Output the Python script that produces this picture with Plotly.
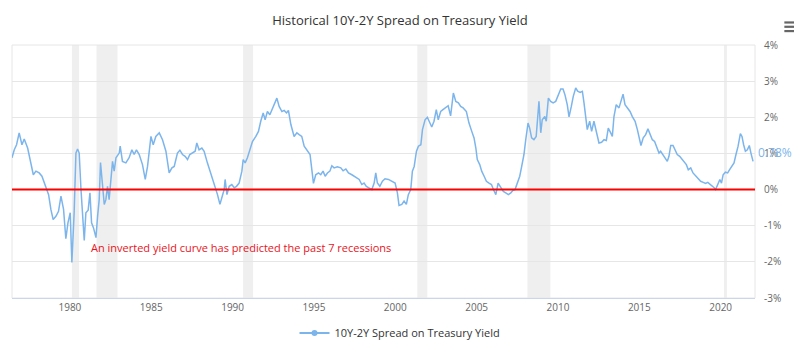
import plotly.graph_objects as go
import pandas as pd

# ---- data (decimal year, spread in %) ----
years = [
    1976.44, 1976.58, 1976.72, 1976.88, 1977.05, 1977.19, 1977.40, 1977.54, 1977.75, 1977.91,
    1978.11, 1978.28, 1978.42, 1978.56, 1978.69, 1978.83, 1978.97, 1979.14, 1979.30, 1979.45,
    1979.61, 1979.75, 1979.88, 1980.02, 1980.12, 1980.26, 1980.37, 1980.47, 1980.57, 1980.68,
    1980.77, 1980.88, 1980.98, 1981.12, 1981.23, 1981.33, 1981.45, 1981.60, 1981.70, 1981.80,
    1981.88, 1982.00, 1982.11, 1982.21, 1982.31, 1982.41, 1982.52, 1982.62, 1982.72, 1982.83,
    1983.03, 1983.09, 1983.23, 1983.44, 1983.64, 1983.81, 1983.95, 1984.09, 1984.26, 1984.46,
    1984.63, 1984.77, 1984.98, 1985.12, 1985.28, 1985.49, 1985.69, 1985.90, 1986.10, 1986.27,
    1986.41, 1986.51, 1986.61, 1986.76, 1986.92, 1987.08, 1987.23, 1987.37, 1987.53, 1987.70,
    1987.80, 1987.94, 1988.11, 1988.25, 1988.45, 1988.66, 1988.80, 1988.93, 1989.07, 1989.22,
    1989.34, 1989.48, 1989.54, 1989.65, 1989.79, 1989.95, 1990.10, 1990.24, 1990.40, 1990.57,
    1990.65, 1990.77, 1990.91, 1991.06, 1991.22, 1991.43, 1991.59, 1991.73, 1991.88, 1992.00,
    1992.14, 1992.29, 1992.45, 1992.61, 1992.72, 1992.86, 1993.03, 1993.17, 1993.31, 1993.43,
    1993.58, 1993.78, 1993.95, 1994.09, 1994.25, 1994.40, 1994.60, 1994.76, 1994.87, 1994.97,
    1995.11, 1995.28, 1995.42, 1995.56, 1995.69, 1995.83, 1995.98, 1996.10, 1996.24, 1996.44,
    1996.65, 1996.79, 1996.96, 1997.12, 1997.33, 1997.47, 1997.63, 1997.78, 1997.94, 1998.08,
    1998.22, 1998.39, 1998.56, 1998.70, 1998.80, 1998.90, 1999.05, 1999.21, 1999.37, 1999.58,
    1999.79, 1999.99, 2000.13, 2000.23, 2000.40, 2000.54, 2000.68, 2000.80, 2000.95, 2001.05,
    2001.16, 2001.30, 2001.42, 2001.57, 2001.67, 2001.83, 2001.97, 2002.12, 2002.24, 2002.38,
    2002.52, 2002.64, 2002.79, 2002.93, 2003.10, 2003.25, 2003.40, 2003.57, 2003.72, 2003.88,
    2004.02, 2004.17, 2004.37, 2004.53, 2004.70, 2004.84, 2004.95, 2005.04, 2005.19, 2005.31,
    2005.46, 2005.60, 2005.76, 2005.91, 2006.03, 2006.18, 2006.32, 2006.48, 2006.64, 2006.79,
    2006.95, 2007.10, 2007.24, 2007.36, 2007.50, 2007.65, 2007.77, 2007.91, 2008.02, 2008.16,
    2008.26, 2008.38, 2008.52, 2008.66, 2008.83, 2008.94, 2009.03, 2009.19, 2009.28, 2009.41,
    2009.55, 2009.70, 2009.86, 2010.02, 2010.17, 2010.31, 2010.43, 2010.57, 2010.68, 2010.82,
    2010.94, 2011.09, 2011.21, 2011.36, 2011.50, 2011.60, 2011.71, 2011.80, 2011.95, 2012.07,
    2012.21, 2012.36, 2012.52, 2012.68, 2012.83, 2012.97, 2013.09, 2013.24, 2013.34, 2013.44,
    2013.58, 2013.75, 2013.89, 2014.00, 2014.12, 2014.26, 2014.43, 2014.57, 2014.74, 2014.88,
    2014.98, 2015.10, 2015.24, 2015.39, 2015.53, 2015.66, 2015.80, 2015.94, 2016.07, 2016.21,
    2016.31, 2016.45, 2016.62, 2016.72, 2016.82, 2016.93, 2017.07, 2017.19, 2017.33, 2017.48,
    2017.60, 2017.75, 2017.89, 2018.01, 2018.16, 2018.30, 2018.46, 2018.62, 2018.77, 2018.93,
    2019.07, 2019.21, 2019.33, 2019.48, 2019.60, 2019.69, 2019.81, 2019.95, 2020.05, 2020.15,
    2020.29, 2020.43, 2020.55, 2020.70, 2020.82, 2020.94, 2021.07, 2021.21, 2021.31, 2021.41,
    2021.52, 2021.64, 2021.76, 2021.86, 2021.99,
]
spread = [
    0.88, 1.10, 1.24, 1.57, 1.24, 1.40, 1.15, 0.88, 0.41, 0.51,
    0.46, 0.37, 0.18, 0.05, -0.14, -0.55, -0.83, -0.74, -0.60, -0.18,
    -0.55, -1.36, -0.92, -0.64, -2.02, -0.64, 1.01, 1.12, 1.01, 0.00,
    -0.64, -1.41, -0.64, -0.57, -0.09, -0.92, -1.06, -1.33, -0.74, -0.28,
    0.75, 0.00, -0.41, -0.28, 0.09, -0.28, 0.37, 0.78, 0.51, 0.88,
    1.01, 1.20, 0.78, 0.74, 0.88, 1.10, 0.97, 1.10, 0.97, 0.69,
    0.28, 0.64, 1.47, 1.24, 1.47, 1.57, 1.38, 1.06, 0.46, 0.60,
    0.64, 0.83, 1.01, 1.09, 0.97, 0.92, 0.83, 0.97, 1.01, 1.06,
    1.29, 1.10, 1.15, 1.06, 0.74, 0.46, 0.28, 0.09, -0.14, -0.41,
    -0.18, 0.00, 0.28, -0.14, 0.09, 0.14, 0.05, 0.09, 0.18, 0.51,
    0.83, 0.74, 0.88, 1.10, 1.33, 1.47, 1.61, 1.89, 2.12, 1.93,
    2.16, 2.07, 2.26, 2.40, 2.53, 2.30, 2.16, 2.19, 2.12, 2.19,
    1.80, 1.47, 1.57, 1.52, 1.47, 1.20, 1.06, 0.97, 0.55, 0.17,
    0.41, 0.46, 0.41, 0.51, 0.37, 0.46, 0.51, 0.66, 0.60, 0.63,
    0.60, 0.52, 0.57, 0.46, 0.41, 0.37, 0.32, 0.28, 0.14, 0.18,
    0.09, 0.05, 0.00, 0.18, 0.46, 0.18, 0.09, 0.23, 0.30, 0.28,
    0.23, 0.18, -0.09, -0.44, -0.41, -0.32, -0.41, -0.14, 0.00, 0.51,
    0.64, 1.06, 1.20, 1.24, 1.66, 1.93, 2.00, 1.84, 1.73, 1.89,
    2.21, 1.93, 2.16, 2.21, 2.26, 2.32, 2.04, 2.67, 2.44, 2.40,
    2.30, 2.26, 2.16, 1.84, 1.61, 1.43, 1.15, 0.83, 0.69, 0.51,
    0.37, 0.23, 0.18, 0.14, 0.00, -0.14, 0.18, 0.05, -0.05, -0.09,
    -0.14, -0.09, -0.02, 0.00, 0.18, 0.37, 0.64, 0.97, 1.38, 1.84,
    1.70, 1.43, 1.38, 1.47, 2.44, 1.57, 1.93, 2.02, 1.89, 2.53,
    2.44, 2.40, 2.44, 2.62, 2.78, 2.78, 2.62, 2.35, 2.01, 2.30,
    2.58, 2.81, 2.72, 2.69, 2.72, 2.40, 1.93, 1.66, 1.89, 1.61,
    1.89, 1.57, 1.29, 1.31, 1.38, 1.36, 1.70, 1.57, 1.47, 2.02,
    2.35, 2.26, 2.44, 2.64, 2.35, 2.26, 2.16, 2.02, 1.89, 1.66,
    1.43, 1.22, 1.43, 1.52, 1.68, 1.52, 1.38, 1.33, 1.20, 1.01,
    1.06, 0.97, 0.83, 0.78, 0.92, 1.22, 1.22, 1.10, 0.97, 0.92,
    0.85, 0.78, 0.69, 0.55, 0.60, 0.46, 0.39, 0.30, 0.23, 0.20,
    0.17, 0.20, 0.16, 0.09, 0.05, 0.00, 0.14, 0.28, 0.18, 0.41,
    0.48, 0.46, 0.55, 0.64, 0.74, 0.97, 1.20, 1.55, 1.47, 1.24,
    1.06, 1.10, 1.22, 1.01, 0.78,
]

recession_starts = ["1980-02-15", "1981-08-20", "1990-08-25", "2001-05-10", "2008-02-15", "2020-03-15"]
recession_ends = ["1980-07-25", "1982-12-05", "1991-04-05", "2001-12-20", "2009-07-15", "2020-05-20"]

y_ticks = [-3, -2, -1, 0, 1, 2, 3, 4]
y_tick_labels = ["-3%", "-2%", "-1%", "0%", "1%", "2%", "3%", "4%"]

series_name = "10Y-2Y Spread on Treasury Yield"
title_text = "Historical 10Y-2Y Spread on Treasury Yield"
note_text = "An inverted yield curve has predicted the past 7 recessions"
last_label = "0.78%"


def to_date(y):
    yr = int(y)
    start = pd.Timestamp(year=yr, month=1, day=1)
    end = pd.Timestamp(year=yr + 1, month=1, day=1)
    return start + (end - start) * (y - yr)


dates = [to_date(y) for y in years]

LINE = "#7cb5ec"
FONT = "Open Sans, DejaVu Sans, sans-serif"

fig = go.Figure()
fig.add_trace(go.Scatter(
    x=dates, y=spread, mode="lines", name=series_name,
    line=dict(color=LINE, width=1.5), showlegend=False,
))
fig.add_trace(go.Scatter(
    x=[None], y=[None], mode="lines+markers", name=series_name,
    line=dict(color=LINE, width=2), marker=dict(color=LINE, size=6),
))

shapes = []
for s, e in zip(recession_starts, recession_ends):
    shapes.append(dict(type="rect", xref="x", yref="paper", x0=s, x1=e, y0=0, y1=1,
                       fillcolor="#efefef", line=dict(width=0), layer="below"))
# zero reference line
shapes.append(dict(type="line", xref="paper", yref="y", x0=0, x1=1, y0=0, y1=0,
                   line=dict(color="#ff0000", width=2), layer="above"))
# plot border
shapes.append(dict(type="rect", xref="paper", yref="paper", x0=0, x1=1, y0=0, y1=1,
                   line=dict(color="#e6e6e6", width=1), fillcolor="rgba(0,0,0,0)", layer="below"))
# hamburger menu icon
for yy in [1.055, 1.072, 1.089]:
    shapes.append(dict(type="line", xref="paper", yref="paper", x0=1.0395, x1=1.0525, y0=yy, y1=yy,
                       line=dict(color="#666666", width=2.2)))

fig.update_layout(
    width=800, height=345,
    margin=dict(l=12, r=45, t=45, b=47, autoexpand=False),
    paper_bgcolor="white", plot_bgcolor="white",
    font=dict(family=FONT, color="#666666"),
    title=dict(text=title_text, x=0.5, xref="container", xanchor="center",
               y=1 - 20 / 345, yref="container", yanchor="middle",
               font=dict(size=13, color="#333333", family=FONT)),
    shapes=shapes,
    showlegend=True,
    legend=dict(orientation="h", x=0.5, xref="container", xanchor="center",
                y=1 - 333 / 345, yref="container", yanchor="middle",
                font=dict(size=11, color="#333333", family=FONT),
                itemwidth=30),
    xaxis=dict(
        type="date",
        range=[to_date(1976.44), to_date(2022.11)],
        tick0="1980-01-01", dtick="M60", tickformat="%Y",
        showgrid=False, zeroline=False,
        showline=True, linecolor="#ccd6eb", linewidth=1,
        ticks="", tickfont=dict(size=10, color="#666666"),
    ),
    yaxis=dict(
        side="right", range=[-3, 4],
        tickvals=y_ticks, ticktext=y_tick_labels,
        showgrid=True, gridcolor="#e6e6e6", zeroline=False,
        showline=False, ticks="", ticklabelstandoff=8,
        tickfont=dict(size=10, color="#666666"),
    ),
    annotations=[
        dict(text=note_text, xref="x", yref="y", x=to_date(1981.19), y=-1.6,
             xanchor="left", yanchor="middle", showarrow=False,
             font=dict(size=11, color="#e8141c", family=FONT)),
        dict(text=last_label, xref="paper", yref="y", x=1, y=spread[-1], yshift=9,
             xanchor="left", yanchor="middle", showarrow=False, xshift=1,
             font=dict(size=12, color=LINE, family=FONT)),
    ],
)

fig.write_html("out.html")
